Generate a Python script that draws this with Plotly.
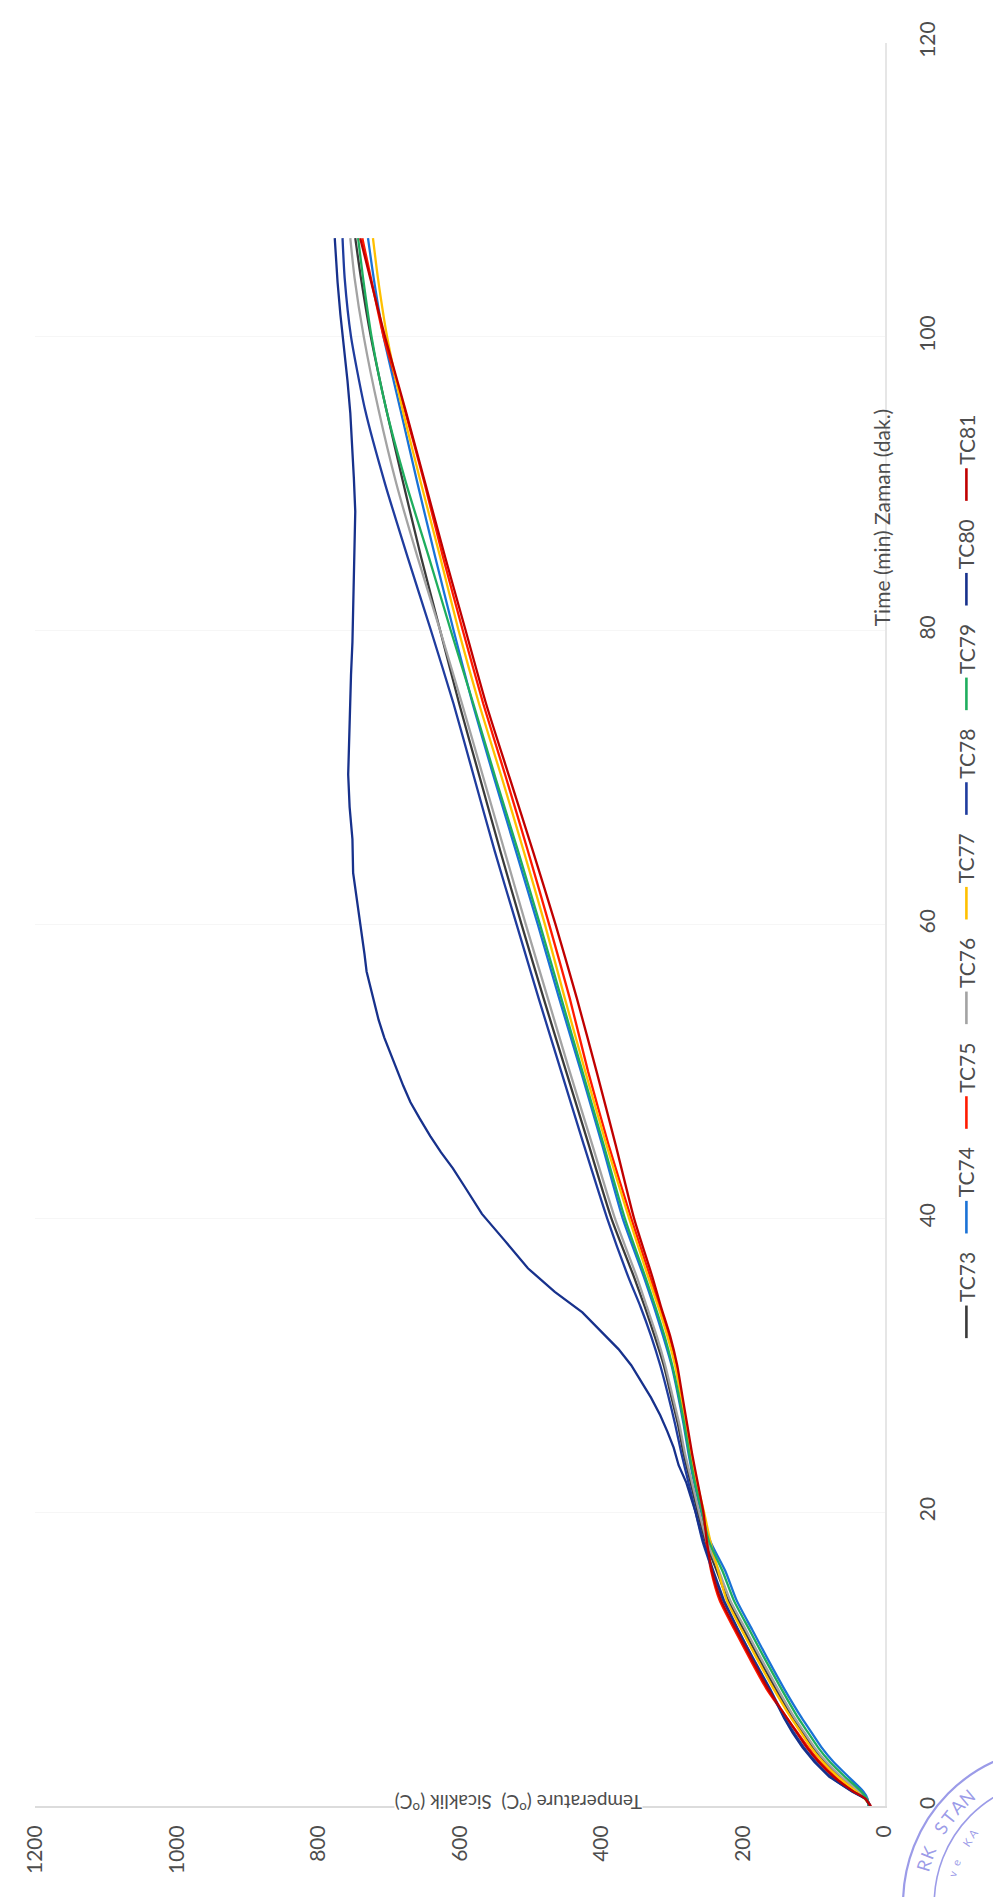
import math
import plotly.graph_objects as go

W, H = 993, 1897

# Furnace thermocouple readings: temperature (°C) against elapsed time (min)
minutes = [0, 0.5, 1, 2, 3, 4, 5, 6, 8, 10, 12, 14, 16, 18, 20, 22, 24, 26, 28, 30,
           32, 34, 36, 40, 45, 50, 55, 60, 65, 70, 75, 80, 85, 90, 95, 100, 104, 106.7]

tc73 = [21, 25, 38, 64, 85, 102, 116, 130, 154, 177, 199, 221, 237, 253, 264, 274, 284, 292, 302, 312,
        325, 339, 354, 386, 418, 450, 482, 513, 543, 572, 601, 628, 655, 680, 704, 726, 740, 748]
tc74 = [23, 24, 30, 51, 72, 89, 103, 117, 142, 165, 187, 209, 225, 246, 259, 269, 277, 284, 292, 301,
        313, 326, 340, 370, 399, 429, 460, 490, 521, 552, 582, 609, 635, 660, 684, 708, 722, 730]
tc75 = [19, 27, 43, 70, 91, 108, 123, 138, 167, 190, 212, 233, 245, 252, 257, 266, 274, 280, 288, 295,
        305, 318, 331, 358, 390, 419, 445, 474, 504, 535, 567, 596, 624, 650, 678, 708, 726, 738]
tc76 = [22, 25, 36, 61, 82, 99, 113, 127, 151, 174, 196, 218, 234, 251, 262, 272, 282, 290, 300, 310,
        322, 336, 350, 381, 413, 445, 476, 507, 537, 567, 597, 628, 660, 690, 715, 736, 749, 755]
tc77 = [20, 28, 40, 66, 87, 104, 118, 132, 157, 180, 202, 223, 235, 246, 255, 265, 273, 280, 288, 296,
        307, 320, 334, 361, 393, 423, 452, 480, 510, 541, 573, 602, 628, 655, 681, 703, 716, 723]
tc78 = [20, 26, 45, 76, 97, 114, 128, 141, 162, 185, 207, 228, 243, 257, 267, 277, 287, 296, 306, 317,
        330, 345, 362, 392, 425, 457, 489, 520, 551, 580, 609, 641, 674, 706, 734, 754, 763, 766]
tc79 = [22, 25, 33, 56, 77, 94, 108, 122, 146, 169, 191, 213, 229, 248, 258, 268, 276, 283, 291, 300,
        311, 324, 338, 367, 397, 427, 457, 487, 518, 550, 581, 613, 644, 676, 704, 725, 737, 744]
tc81 = [20, 27, 44, 72, 93, 110, 124, 138, 165, 188, 210, 231, 244, 251, 256, 264, 272, 279, 286, 293,
        303, 316, 328, 354, 380, 407, 435, 465, 497, 530, 563, 592, 621, 649, 677, 706, 727, 741]

minutes_tc80 = [0, 0.5, 1, 2, 3, 4, 5, 6, 8, 10, 12, 14, 16, 18, 20, 22, 23.2, 24.4, 25.5, 26.6,
                27.8, 28.9, 30, 31.1, 32.3, 33.6, 35, 36.6, 38.5, 40.3, 42.2, 43.4, 44.5, 45.6, 46.8,
                47.9, 49, 50.1, 51.2, 52.3, 53.5, 54.6, 55.7, 56.8, 58, 59.1, 60.2, 61.3, 62.4, 63.5,
                65.8, 68, 70.2, 72.5, 74.7, 77, 79.2, 81.4, 83.6, 85.9, 88.1, 90.4, 92.6, 94.8, 97,
                99.2, 101.5, 103.7, 105.5, 106.7]
tc80 = [20, 27, 46, 78, 99, 116, 130, 142, 163, 186, 207, 227, 242, 256, 267, 280, 291, 298, 307, 317,
        330, 344, 358, 376, 400, 427, 466, 504, 537, 569, 594, 610, 627, 642, 657,
        670, 680, 689, 699, 707, 715, 721, 727, 732, 735, 738, 742, 744, 748, 751,
        752, 756, 758, 757, 755, 754, 752, 751, 750, 749, 748, 750, 752, 755, 759,
        764, 769, 773, 776, 777]

series_names = ["TC73", "TC74", "TC75", "TC76", "TC77", "TC78", "TC79", "TC80", "TC81"]
series_colors = ["#3a3a3a", "#1a72d6", "#ff1a00", "#a3a3a3", "#ffc000",
                 "#1f3c9e", "#1fae5e", "#17318c", "#c00000"]

temp_ticks = [0, 200, 400, 600, 800, 1000, 1200]
time_ticks = [0, 20, 40, 60, 80, 100, 120]

time_title = "Time (min) Zaman (dak.)"
temp_title = "Temperature (<sup>o</sup>C)  Sicaklik (<sup>o</sup>C)"

FONT = "Lato, 'Open Sans', sans-serif"
TEXT = "#4d4d4d"


def px(x):
    return x / W


def py(y):
    return 1 - y / H


# Plot area in page pixels (chart is laid out turned on its side)
LEFT, RIGHT = 22, 893      # 1200 °C ... 0 °C
TOP, BOTTOM = 22, 1808     # 120 min ... 0 min

fig = go.Figure()

temps = {
    "TC73": tc73, "TC74": tc74, "TC75": tc75, "TC76": tc76, "TC77": tc77,
    "TC78": tc78, "TC79": tc79, "TC80": tc80, "TC81": tc81,
}
for name, color in zip(series_names, series_colors):
    t = minutes_tc80 if name == "TC80" else minutes
    fig.add_trace(go.Scatter(
        x=temps[name], y=t, mode="lines", name=name,
        line=dict(color=color, width=2.3,
                  shape="linear" if name == "TC80" else "spline", smoothing=0.6),
        showlegend=False, hoverinfo="skip",
    ))

fig.update_layout(
    width=W, height=H, autosize=False,
    margin=dict(l=0, r=0, t=0, b=0),
    paper_bgcolor="white", plot_bgcolor="white",
    font=dict(family=FONT, color=TEXT, size=21),
    xaxis=dict(
        domain=[px(LEFT), px(RIGHT)], range=[1200, 0],
        tickvals=temp_ticks, ticktext=[str(v) for v in temp_ticks],
        tickangle=-90, ticks="", ticklabelstandoff=9,
        showgrid=False, zeroline=False,
        showline=True, linecolor="#dcdcdc", linewidth=1.5,
        tickfont=dict(size=21, color=TEXT, family=FONT),
    ),
    yaxis=dict(
        domain=[py(BOTTOM), py(TOP)], range=[0, 120], side="right",
        tickvals=time_ticks, ticktext=[str(v) for v in time_ticks],
        tickangle=-90, ticks="", ticklabelstandoff=24,
        showgrid=True, gridcolor="#f6f6f6", gridwidth=1.2,
        zeroline=False,
        showline=True, linecolor="#e6e6e6", linewidth=1.5,
        tickfont=dict(size=21, color=TEXT, family=FONT),
    ),
)

annotations = []
shapes = []

# Axis titles
annotations.append(dict(
    text=time_title, xref="paper", yref="paper", x=px(890), y=py(503),
    showarrow=False, textangle=-90, font=dict(size=21, color=TEXT, family=FONT),
    xanchor="center", yanchor="middle",
))
annotations.append(dict(
    text=temp_title, xref="paper", yref="paper", x=px(517), y=py(1806),
    showarrow=False, textangle=180, font=dict(size=19, color=TEXT, family=FONT),
    bgcolor="white", borderpad=0, xanchor="center", yanchor="middle",
))

# Legend: short coloured line followed by the series name
LEG_X = 977
for i, (name, color) in enumerate(zip(series_names, series_colors)):
    y_low = 1334 - 106 * i
    y_high = y_low - 33
    shapes.append(dict(
        type="line", xref="paper", yref="paper",
        x0=px(LEG_X), x1=px(LEG_X), y0=py(y_low), y1=py(y_high),
        line=dict(color=color, width=2.6),
    ))
    annotations.append(dict(
        text=name, xref="paper", yref="paper", x=px(LEG_X), y=py(y_high - 2),
        showarrow=False, textangle=-90, font=dict(size=21, color=TEXT, family=FONT),
        xanchor="center", yanchor="bottom",
    ))

# Inspection stamp in the lower right corner
STAMP = "rgba(112,112,222,0.70)"
CX, CY = 1070, 1907
for r, w in [(158, 2.2), (126, 1.6)]:
    shapes.append(dict(
        type="circle", xref="paper", yref="paper",
        x0=px(CX - r), x1=px(CX + r), y0=py(CY + r), y1=py(CY - r),
        line=dict(color=STAMP, width=w),
    ))


def stamp_ring(letters, start, step, radius, size):
    for k, ch in enumerate(letters):
        if ch == " ":
            continue
        phi = start + k * step
        rad = math.radians(phi)
        x = CX + radius * math.cos(rad)
        y = CY + radius * math.sin(rad)
        if x > W - size * 0.6 or y > H - size * 0.6:
            continue
        ang = phi + 90
        if ang > 180:
            ang -= 360
        annotations.append(dict(
            text=ch, xref="paper", yref="paper", x=px(x), y=py(y), showarrow=False,
            textangle=ang, font=dict(size=size, color=STAMP, family=FONT),
            xanchor="center", yanchor="middle",
        ))


stamp_ring("RK STAND", 196, 5.6, 142, 18)
stamp_ring("ve KALIB", 196, 6.0, 112, 11)

fig.update_layout(annotations=annotations, shapes=shapes)

fig.write_html("out.html")
